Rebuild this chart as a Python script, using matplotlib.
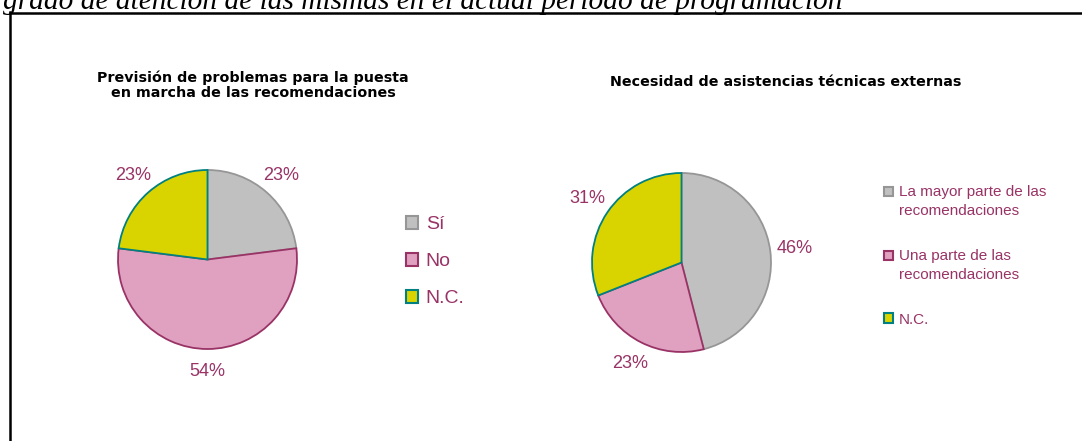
import matplotlib
matplotlib.use("Agg")
import matplotlib.pyplot as plt
from matplotlib.patches import Rectangle
from matplotlib.legend_handler import HandlerPatch

W, H = 1082, 441
DPI = 100

# ---- data ----
header_text = "grado de atención de las mismas en el actual período de programación"

title1 = "Previsión de problemas para la puesta\nen marcha de las recomendaciones"
cats1 = ["Sí", "No", "N.C."]
vals1 = [23, 54, 23]

title2 = "Necesidad de asistencias técnicas externas"
cats2 = ["La mayor parte de las\nrecomendaciones", "Una parte de las\nrecomendaciones", "N.C."]
vals2 = [46, 23, 31]

# ---- styles ----
fills = ["#C0C0C0", "#E0A0C0", "#D9D300"]
edges = ["#969696", "#993366", "#008080"]
txt_col = "#993366"
sans = "Liberation Sans"

fig = plt.figure(figsize=(W / DPI, H / DPI), dpi=DPI)
fig.patch.set_facecolor("white")


def px_axes(cx, cy, r):
    return fig.add_axes([(cx - r) / W, (H - cy - r) / H, 2 * r / W, 2 * r / H])


def draw_pie(ax, vals, pctdist):
    wedges, _, autot = ax.pie(vals, startangle=90, counterclock=False,
                              colors=fills, autopct="%d%%", pctdistance=pctdist,
                              textprops=dict(color=txt_col, fontsize=13, family=sans))
    for w, ec in zip(wedges, edges):
        w.set_edgecolor(ec)
        w.set_linewidth(1.3)
    ax.set_xlim(-1, 1)
    ax.set_ylim(-1, 1)
    ax.set_aspect("equal")
    ax.axis("off")
    return wedges


class TopHandler(HandlerPatch):
    def __init__(self, shift=0, **kw):
        super().__init__(**kw)
        self.shift = shift

    def create_artists(self, legend, orig_handle, xdescent, ydescent, width, height, fontsize, trans):
        p = Rectangle((-xdescent, -ydescent + self.shift), width, height)
        self.update_prop(p, orig_handle, legend)
        p.set_transform(trans)
        return [p]


# ---- left pie ----
ax1 = px_axes(207.5, 259.5, 89.5)
w1 = draw_pie(ax1, vals1, 1.25)
h1 = [Rectangle((0, 0), 1, 1, facecolor=f, edgecolor=e, lw=1.5) for f, e in zip(fills, edges)]
leg1 = fig.legend(h1, cats1, loc="upper left", bbox_to_anchor=(406 / W, 1 - 216 / H),
                  frameon=False, prop=dict(family=sans, size=14), labelcolor=txt_col,
                  handlelength=0.62, handleheight=0.62, handletextpad=0.4,
                  labelspacing=1.03, borderpad=0, borderaxespad=0,
                  handler_map={Rectangle: TopHandler(0)})

fig.text(253 / W, 1 - 97 / H, title1, ha="center", va="baseline", fontsize=10.3,
         fontweight="bold", family="DejaVu Sans", linespacing=1.12)

# ---- right pie ----
ax2 = px_axes(681.5, 262.5, 89.5)
w2 = draw_pie(ax2, vals2, 1.27)
h2 = [Rectangle((0, 0), 1, 1, facecolor=f, edgecolor=e, lw=1.5) for f, e in zip(fills, edges)]
leg2 = fig.legend(h2, cats2, loc="upper left", bbox_to_anchor=(884 / W, 1 - 185 / H),
                  frameon=False, prop=dict(family=sans, size=11), labelcolor=txt_col,
                  handlelength=0.6, handleheight=0.6, handletextpad=0.35,
                  labelspacing=2.02, borderpad=0, borderaxespad=0,
                  handler_map={h2[0]: TopHandler(7.2), h2[1]: TopHandler(7.2),
                               h2[2]: TopHandler(0)})
for t in leg2.get_texts():
    t.set_linespacing(1.45)

fig.text(785.5 / W, 1 - 86 / H, title2, ha="center", va="baseline", fontsize=10.3,
         fontweight="bold", family="DejaVu Sans")

# ---- page decoration ----
fig.text(3 / W, 1 - 9 / H, header_text, ha="left", va="baseline", fontsize=21.2,
         fontstyle="italic", family="Liberation Serif")
fig.add_artist(plt.Line2D([9.5 / W, 1.01], [1 - 13 / H, 1 - 13 / H], color="black", lw=1.8,
                          transform=fig.transFigure))
fig.add_artist(plt.Line2D([10 / W, 10 / W], [1 - 12.2 / H, -0.01], color="black", lw=1.8,
                          transform=fig.transFigure))

fig.savefig("out.png", dpi=DPI)
